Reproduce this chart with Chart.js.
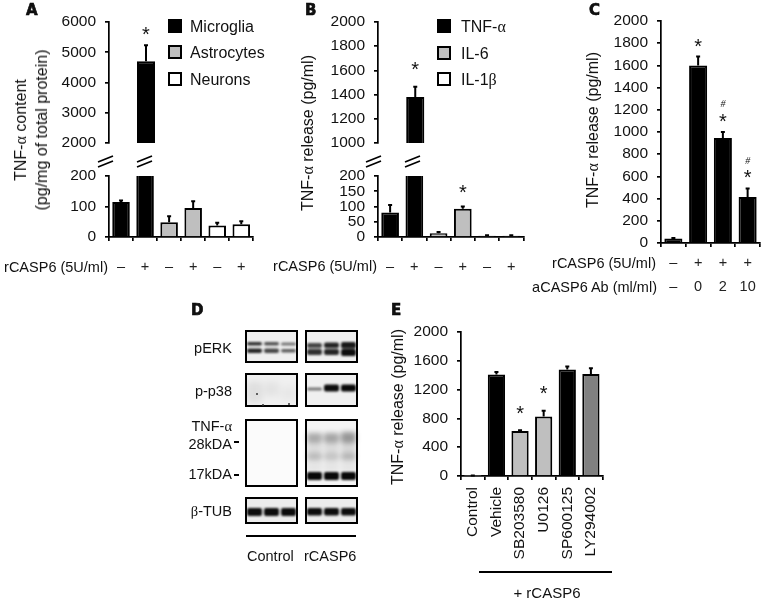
<!DOCTYPE html>
<html>
<head>
<meta charset="utf-8">
<script src="https://cdn.jsdelivr.net/npm/chart.js@4/dist/chart.umd.js"></script>
<style>
  html, body { margin: 0; background: #fff; overflow: hidden; }
  #page { position: relative; width: 764px; height: 600px; overflow: hidden; font-family: "Liberation Sans", Arial, sans-serif; color: #111; }
  #page canvas { position: absolute; }
  .t { position: absolute; white-space: nowrap; line-height: 1; will-change: transform; }
  .g { font-family: "Liberation Serif", serif; }
  .box { position: absolute; box-sizing: border-box; }
</style>
</head>
<body>
<div id="page"></div>
<script>
const GREY = "#bfbfbf";
const DARK_GREY = "#808080";

// panel A
const aLabels = ["–", "+", "–", "+", "–", "+"];
const aValues = [115, 4700, 48, 95, 38, 42];
const aHigh = [120, 5230, 68, 117, 47, 52];
const aColors = ["#000", "#000", GREY, GREY, "#fff", "#fff"];
const aStarsTop = [null, 5640, null, null, null, null];

// panel B
const bLabels = ["–", "+", "–", "+", "–", "+"];
const bValues = [80, 1380, 12, 93, 4, 4];
const bHigh = [105, 1465, 16, 100, 6, 6];
const bColors = ["#000", "#000", GREY, GREY, "#fff", "#fff"];
const bStarsTop = [null, 1620, null, null, null, null];
const bStarsLow = [null, null, null, 154, null, null];

// panel C
const cLabels = [["–", "–"], ["+", "0"], ["+", "2"], ["+", "10"]];
const cValues = [40, 1600, 945, 415];
const cHigh = [46, 1680, 1000, 490];
const cStars = [null, 1790, 1110, 605];
const cHashes = [null, null, 1250, 740];

// panel E
const eLabels = ["Control", "Vehicle", "SB203580", "U0126", "SP600125", "LY294002"];
const eValues = [5, 1410, 625, 825, 1480, 1415];
const eHigh = [6, 1445, 635, 905, 1520, 1495];
const eColors = ["#fff", "#000", GREY, GREY, "#000", DARK_GREY];
const eStars = [null, null, 890, 1170, null, null];

// panel D, bands by lane: [from, to] down the membrane, and how dark
const lanes = ["1", "2", "3"];
const ctrlBands = [
  { at: [[12, 15.5], [12, 15.5], [12.5, 15.5]], dark: [0.8, 0.65, 0.5] },
  { at: [[18.5, 23], [18.5, 23], [19, 22.5]], dark: [0.85, 0.7, 0.6] },
  { at: [[178, 186], [178, 186], [178, 186]], dark: [0.95, 0.95, 0.95] }
];
const ctrlSmears = [
  { at: [[52, 72], [52, 66], [56, 70]], dark: [0.07, 0.05, 0.03] }
];
const rcaspBands = [
  { at: [[13, 18], [12.5, 18], [12, 18.5]], dark: [0.7, 0.85, 0.9] },
  { at: [[19, 25], [19, 25], [19, 26]], dark: [0.8, 0.85, 0.95] },
  { at: [[57.5, 60.5], [54.5, 61.5], [54.5, 61.5]], dark: [0.5, 0.95, 0.97] },
  { at: [[142, 150], [142, 150], [142, 150]], dark: [0.97, 0.97, 0.97] },
  { at: [[178, 185.5], [178, 185.5], [178, 185.5]], dark: [0.95, 0.95, 0.95] }
];
const rcaspSmears = [
  { at: [[103, 113], [103, 113], [102, 113]], dark: [0.3, 0.32, 0.38] },
  { at: [[113, 123], [113, 123], [113, 123]], dark: [0.1, 0.1, 0.12] },
  { at: [[123, 130], [123, 130], [123, 130]], dark: [0.24, 0.2, 0.26] },
  { at: [[130, 142], [130, 142], [130, 142]], dark: [0.06, 0.06, 0.06] }
];

const page = document.getElementById("page");
Chart.defaults.font.family = '"Liberation Sans", Arial, sans-serif';
Chart.defaults.color = "#111";
Chart.defaults.animation = false;

// error bars and * / # marks, read through the y scale
const marksPlugin = {
  id: "marks",
  afterDatasetsDraw(chart, args, opts) {
    const ctx = chart.ctx;
    const y = chart.scales.y;
    const meta = chart.getDatasetMeta(0);
    const values = chart.data.datasets[0].data;
    ctx.save();
    ctx.strokeStyle = "#000";
    ctx.lineWidth = 2;
    (opts.high || []).forEach((h, i) => {
      if (values[i] == null || values[i] > y.max) return;
      const x = meta.data[i].x;
      ctx.beginPath();
      ctx.moveTo(x, y.getPixelForValue(values[i]));
      ctx.lineTo(x, y.getPixelForValue(h));
      ctx.moveTo(x - 2, y.getPixelForValue(h));
      ctx.lineTo(x + 2, y.getPixelForValue(h));
      ctx.stroke();
    });
    ctx.fillStyle = "#111";
    ctx.textAlign = "center";
    ctx.textBaseline = "alphabetic";
    ctx.font = '20px "Liberation Sans"';
    (opts.stars || []).forEach((v, i) => {
      if (v != null) ctx.fillText("*", meta.data[i].x, y.getPixelForValue(v) + 8.5);
    });
    ctx.font = 'italic 10px "Liberation Serif"';
    (opts.hashes || []).forEach((v, i) => {
      if (v != null) ctx.fillText("#", meta.data[i].x, y.getPixelForValue(v) + 3);
    });
    ctx.restore();
  }
};

function addCanvas(left, top, width, height) {
  const c = document.createElement("canvas");
  c.width = width;
  c.height = height;
  c.style.left = left + "px";
  c.style.top = top + "px";
  c.style.width = width + "px";
  c.style.height = height + "px";
  page.appendChild(c);
  return c;
}

// area = plot rectangle on the page, so panels line up with each other
function barPanel(area, cfg) {
  // the y scale reserves half a label plus tick padding above and below
  const leftRoom = 60, rightRoom = 6, topRoom = 22, under = cfg.under;
  const c = addCanvas(area.l - leftRoom, area.t - topRoom, area.r - area.l + leftRoom + rightRoom, area.b - area.t + topRoom + under);
  return new Chart(c, {
    type: "bar",
    data: {
      labels: cfg.labels,
      datasets: [{
        data: cfg.values,
        backgroundColor: cfg.colors,
        borderColor: cfg.borderColors || "#000",
        borderWidth: 2,
        barPercentage: 0.73,
        categoryPercentage: 1
      }]
    },
    options: {
      responsive: false,
      maintainAspectRatio: false,
      layout: { padding: { top: topRoom, right: rightRoom, bottom: cfg.showX ? 0 : under, left: 0 } },
      plugins: {
        legend: { display: false },
        tooltip: { enabled: false },
        marks: { high: cfg.high, stars: cfg.stars, hashes: cfg.hashes }
      },
      scales: {
        x: {
          display: !!cfg.showX,
          afterFit: s => { s.height = cfg.showX ? under : 0; },
          border: { color: "#000", width: 1.7 },
          grid: { drawOnChartArea: false, color: "#000", tickColor: "#000", lineWidth: 1.7, tickLength: 4 },
          ticks: Object.assign({
            autoSkip: false,
            maxRotation: 0,
            padding: 17,
            color: "#222",
            font: { size: 14.5 }
          }, cfg.xTicks || {})
        },
        y: {
          min: cfg.min,
          max: cfg.max,
          afterFit: s => { s.width = leftRoom; },
          border: { color: "#000", width: 1.7 },
          grid: { drawOnChartArea: false, color: "#000", tickColor: "#000", lineWidth: 1.7, tickLength: 4 },
          ticks: { autoSkip: false, stepSize: cfg.step, padding: 9, font: { size: 15.5 }, color: "#111", callback: v => String(v) }
        }
      }
    },
    plugins: [marksPlugin]
  });
}

function blotPanel(left, top, width, height, bands, blur) {
  const c = addCanvas(left, top, width, height);
  c.style.filter = "blur(" + blur + "px)";
  new Chart(c, {
    type: "bar",
    data: {
      labels: lanes,
      datasets: bands.map(b => ({
        data: b.at,
        backgroundColor: b.dark.map(d => "rgba(0,0,0," + d + ")"),
        borderRadius: 2,
        borderSkipped: false,
        barPercentage: 0.88,
        categoryPercentage: 1,
        grouped: false
      }))
    },
    options: {
      responsive: false,
      maintainAspectRatio: false,
      layout: { padding: 0 },
      plugins: { legend: { display: false }, tooltip: { enabled: false } },
      scales: {
        x: { display: false },
        y: { display: false, reverse: true, min: 0, max: height }
      }
    }
  });
}

function text(html, x, y, size, o) {
  o = o || {};
  const d = document.createElement("div");
  d.className = "t";
  d.innerHTML = html;
  d.style.fontSize = size + "px";
  d.style.left = x + "px";
  d.style.top = y + "px";
  const tx = o.align === "right" ? "-100%" : o.align === "center" ? "-50%" : "0";
  d.style.transform = "translate(" + tx + ",-50%)" + (o.rot ? " rotate(-90deg)" : "");
  if (o.weight) d.style.fontWeight = o.weight;
  if (o.family) d.style.fontFamily = o.family;
  if (o.stroke) d.style.webkitTextStroke = o.stroke;
  page.appendChild(d);
}

function box(x, y, w, h, style) {
  const d = document.createElement("div");
  d.className = "box";
  d.style.left = x + "px";
  d.style.top = y + "px";
  d.style.width = w + "px";
  d.style.height = h + "px";
  Object.assign(d.style, style);
  page.appendChild(d);
}

function axisBreak(x, y) {
  const ns = "http://www.w3.org/2000/svg";
  const s = document.createElementNS(ns, "svg");
  s.setAttribute("width", 18);
  s.setAttribute("height", 13);
  s.style.cssText = "position:absolute;left:" + x + "px;top:" + y + "px";
  [[1, 7, 16, 1], [1, 12, 16, 6]].forEach(p => {
    const l = document.createElementNS(ns, "line");
    l.setAttribute("x1", p[0]); l.setAttribute("y1", p[1]);
    l.setAttribute("x2", p[2]); l.setAttribute("y2", p[3]);
    l.setAttribute("stroke", "#000");
    l.setAttribute("stroke-width", 1.7);
    s.appendChild(l);
  });
  page.appendChild(s);
}

function legendRow(x, y, color, label, textX) {
  box(x, y, 14, 14, { background: color, border: "2px solid #000" });
  text(label, textX, y + 8, 16);
}

const ALPHA = '<span class="g">α</span>';
const BETA = '<span class="g">β</span>';

function letter(ch, x, y) {
  text(ch, x, y, 15, { weight: "bold", family: '"DejaVu Sans"', stroke: "0.6px #000" });
}

// A
const keepAbove = (vals, min) => vals.map(v => (v >= min ? v : null));
barPanel({ l: 109, r: 257, t: 22, b: 143 }, {
  labels: aLabels, values: keepAbove(aValues, 2000), colors: aColors, high: aHigh, stars: aStarsTop,
  min: 2000, max: 6000, step: 1000, under: 22
});
barPanel({ l: 109, r: 257, t: 176, b: 237 }, {
  labels: aLabels, values: aValues, colors: aColors, high: aHigh,
  min: 0, max: 200, step: 100, under: 50, showX: true
});

// B
barPanel({ l: 377.5, r: 526.5, t: 22, b: 143 }, {
  labels: bLabels, values: keepAbove(bValues, 1000), colors: bColors, high: bHigh, stars: bStarsTop,
  min: 1000, max: 2000, step: 200, under: 22
});
barPanel({ l: 377.5, r: 526.5, t: 176, b: 237 }, {
  labels: bLabels, values: bValues, colors: bColors, high: bHigh, stars: bStarsLow,
  min: 0, max: 200, step: 50, under: 50, showX: true
});

// C
barPanel({ l: 660.5, r: 760, t: 21, b: 243 }, {
  labels: cLabels, values: cValues, colors: "#000", high: cHigh, stars: cStars, hashes: cHashes,
  min: 0, max: 2000, step: 200, under: 55, showX: true,
  xTicks: { padding: 4, font: { size: 14.5, lineHeight: 1.65 } }
});

// E
barPanel({ l: 461, r: 611, t: 332, b: 476 }, {
  labels: eLabels, values: eValues, colors: eColors, high: eHigh, stars: eStars,
  borderColors: ["#bbb", "#000", "#000", "#000", "#000", "#000"],
  min: 0, max: 2000, step: 400, under: 95, showX: true,
  xTicks: { minRotation: 90, maxRotation: 90, padding: 7, color: "#111", font: { size: 15.5 } }
});

// D
const blotRows = [[330, 33, "#efefef"], [373, 34, "#f0f0f0"], [419, 68, "#fbfbfb"], [497, 27, "#ececec"]];
blotRows.forEach(r => {
  box(245, r[0], 53, r[1], { background: r[2] });
  box(305, r[0], 53, r[1], { background: r[2] === "#fbfbfb" ? "#f4f4f4" : r[2] });
});
blotPanel(246, 330, 51, 194, ctrlSmears, 3);
blotPanel(306, 330, 51, 194, rcaspSmears, 2.6);
blotPanel(246, 330, 51, 194, ctrlBands, 1.3);
blotPanel(306, 330, 51, 194, rcaspBands, 1.3);
blotRows.forEach(r => {
  box(245, r[0], 53, r[1], { border: "2px solid #000" });
  box(305, r[0], 53, r[1], { border: "2px solid #000" });
});
[[256, 393], [288, 403], [262, 404]].forEach(p => box(p[0], p[1], 2, 2, { background: "#333", borderRadius: "1px" }));
text("pERK", 232, 348, 14.5, { align: "right" });
text("p-p38", 232, 391, 14.5, { align: "right" });
text("TNF-" + ALPHA, 232, 426, 14.5, { align: "right" });
text("28kDA", 232, 444, 14.5, { align: "right" });
text("17kDA", 232, 474, 14.5, { align: "right" });
text(BETA + "-TUB", 232, 511, 14.5, { align: "right" });
box(234, 441, 5, 2, { background: "#000" });
box(234, 474, 5, 2, { background: "#000" });
box(246, 535, 110, 2, { background: "#000" });
text("Control", 247, 556, 14.5);
text("rCASP6", 304, 556, 14.5);

// breaks in the y axis
axisBreak(97, 155);
axisBreak(136, 155);
axisBreak(365, 155);
axisBreak(404, 155);

// legends
legendRow(168, 19, "#000", "Microglia", 190);
legendRow(168, 45, GREY, "Astrocytes", 190);
legendRow(168, 72, "#fff", "Neurons", 190);
legendRow(437, 19, "#000", "TNF-" + ALPHA, 461);
legendRow(437, 46, GREY, "IL-6", 461);
legendRow(437, 72, "#fff", "IL-1" + BETA, 461);

// axis titles
text("TNF-" + ALPHA + " content", 21, 130, 16, { align: "center", rot: true });
text("(pg/mg of total protein)", 42, 130, 16, { align: "center", rot: true });
text("TNF-" + ALPHA + " release (pg/ml)", 308, 133, 16, { align: "center", rot: true });
text("TNF-" + ALPHA + " release (pg/ml)", 593, 130, 16, { align: "center", rot: true });
text("TNF-" + ALPHA + " release (pg/ml)", 398, 407, 16, { align: "center", rot: true });

// row captions
text("rCASP6 (5U/ml)", 108, 267, 14.5, { align: "right" });
text("rCASP6 (5U/ml)", 377, 266, 14.5, { align: "right" });
text("rCASP6 (5U/ml)", 656, 263, 14.5, { align: "right" });
text("aCASP6 Ab (ml/ml)", 657, 287, 14.5, { align: "right" });

box(479, 571, 133, 2, { background: "#000" });
text("+ rCASP6", 547, 592, 15, { align: "center" });

letter("A", 26, 10);
letter("B", 305, 10);
letter("C", 589, 10);
letter("D", 191, 310);
letter("E", 391, 310);
</script>
</body>
</html>
